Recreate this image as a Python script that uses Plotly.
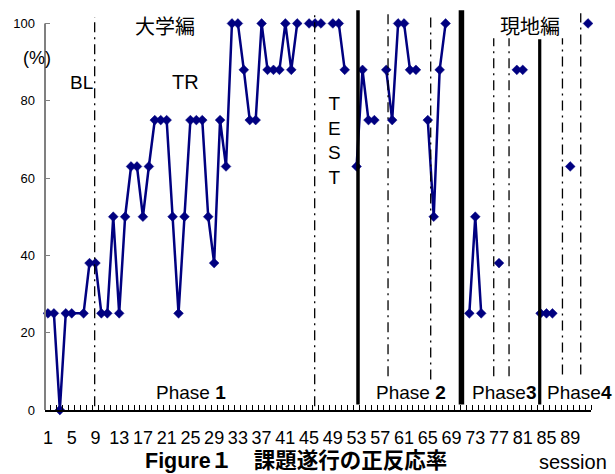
import plotly.graph_objects as go

# ---------------- data ----------------
# correct-response rate (%) per session 1..92 ; None = no session recorded
rates = [25, 25, 0, 25, 25, None, 25, 38, 38, 25,
         25, 50, 25, 50, 63, 63, 50, 63, 75, 75,
         75, 50, 25, 50, 75, 75, 75, 50, 38, 75,
         63, 100, 100, 88, 75, 75, 100, 88, 88, 88,
         100, 88, 100, None, 100, 100, 100, None, 100, 100,
         88, None, 63, 88, 75, 75, None, 88, 75, 100,
         100, 88, 88, None, 75, 50, 88, 100, None, None,
         None, 25, 50, 25, None, None, 38, None, None, 88,
         88, None, None, 25, 25, 25, None, None, 63, None,
         None, 100]
sessions = list(range(1, len(rates) + 1))
bridged = [6]                       # missing session the line is drawn across
tick_sessions = list(range(1, 90, 4))
tick_labels = [str(s) for s in tick_sessions]
y_ticks = [0, 20, 40, 60, 80, 100]

# ---------------- geometry helpers (pixels -> paper) ----------------
FW, FH = 615, 474
L, R = 45.33, 591.33
T, B = 7.8, 410.5
W, H = R - L, B - T

def xp(px):
    return (px - L) / W

def yp(py):
    return (B - py) / H

NAVY = "#000080"
LAT = "Arial, Liberation Sans, sans-serif"
CJK = "Noto Sans CJK JP, sans-serif"
MIX = "Arial, Liberation Sans, Noto Sans CJK JP, sans-serif"

line_x = [s for s, v in zip(sessions, rates) if s not in bridged]
line_y = [v for s, v in zip(sessions, rates) if s not in bridged]

fig = go.Figure()
fig.add_trace(go.Scatter(
    x=line_x, y=line_y, mode="lines+markers",
    line=dict(color=NAVY, width=2.5),
    marker=dict(symbol="diamond", size=7.5, color=NAVY,
                line=dict(color=NAVY, width=0.5)),
    connectgaps=False, cliponaxis=False, hoverinfo="skip"))

# phase / condition boundary lines: (session position, style, top px, bottom px, width)
phase_lines = [
    (8.87, "dd", 16.7, 406.7, 1.3),
    (45.94, "dd", 10, 406.7, 1.3),
    (53.24, "solid", 10, 405, 3.5),
    (58.30, "dd", 10, 376.7, 1.3),
    (65.49, "dd", 13, 380, 1.3),
    (70.67, "solid", 10, 405, 5.5),
    (76.11, "dd", 38, 376.7, 1.3),
    (78.69, "dd", 38, 376.7, 1.3),
    (83.86, "solid", 39, 405, 3.2),
    (87.69, "dd", 38, 375, 1.3),
    (90.77, "dd", 13, 375, 1.3),
]
shapes = []
for xs, st, top, bot, wd in phase_lines:
    shapes.append(dict(
        type="line", xref="x", yref="paper", x0=xs, x1=xs,
        y0=yp(bot), y1=yp(top),
        line=dict(color="black", width=wd,
                  dash="10px,5px,2px,5px" if st == "dd" else "solid")))
# y-axis line (only up to 100)
shapes.append(dict(type="line", xref="paper", yref="y", x0=0, x1=0,
                   y0=0, y1=100, line=dict(color="#808080", width=2)))

def ann(text, px, py, size, family=LAT, **kw):
    return dict(text=text, x=xp(px), y=yp(py), xref="paper", yref="paper",
                xanchor="center", yanchor="middle", showarrow=False,
                font=dict(size=size, family=family, color="black"), **kw)

annotations = [
    ann("大学編", 165, 25, 20, CJK),
    ann("現地編", 530, 25, 20, CJK),
    ann("(%)", 37, 58, 18),
    ann("BL", 82, 82, 19),
    ann("TR", 186, 82, 20),
    ann("T<br>E<br>S<br>T", 335, 141, 19),
    ann("Phase <b>1</b>", 191, 393, 19),
    ann("Phase <b>2</b>", 411.5, 393, 19),
    ann("Phase<b>3</b>", 504, 393, 19),
    ann("Phase<b>4</b>", 580, 393, 19),
    ann("session", 573, 463, 20),
    ann("<b>Figure１　課題遂行の正反応率</b>", 296.5, 461.5, 21.5, MIX),
]

fig.update_layout(
    width=FW, height=FH,
    margin=dict(l=L, r=FW - R, t=T, b=FH - B, pad=0),
    paper_bgcolor="white", plot_bgcolor="white",
    showlegend=False,
    shapes=shapes, annotations=annotations,
    xaxis=dict(range=[0.5, len(rates) + 0.5], showgrid=False, zeroline=False,
               showline=True, linecolor="black", linewidth=1.5,
               tickmode="array", tickvals=tick_sessions, ticktext=tick_labels,
               ticks="", tickangle=0, ticklabelstandoff=11,
               tickfont=dict(size=18, family=LAT, color="black"),
               minor=dict(tickmode="linear", tick0=0.5, dtick=1,
                          ticks="inside", ticklen=5, tickwidth=1,
                          tickcolor="black", showgrid=False)),
    yaxis=dict(range=[0, 104], showgrid=False, zeroline=False, showline=False,
               tickmode="array", tickvals=y_ticks,
               ticks="inside", ticklen=5, tickwidth=1.2, tickcolor="#808080",
               ticklabelstandoff=9,
               tickfont=dict(size=13, family=LAT, color="black")),
)

fig.write_html("out.html",
               config={"displayModeBar": False},
               post_script="document.body.style.margin='0';"
                           "document.body.style.overflow='hidden';")
